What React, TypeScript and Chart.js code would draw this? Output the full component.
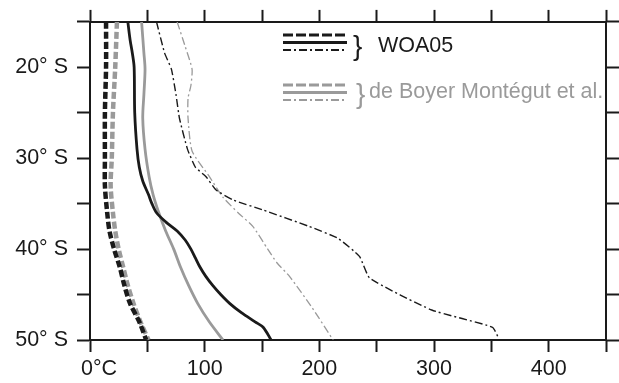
import React, { useEffect, useRef } from "react";
import { Chart, registerables } from "chart.js";

Chart.register(...registerables);

// ---- Data (latitude in degrees south, value in °C-units on x axis) ----
const woaDashLat = [15, 20, 25, 30, 33, 36, 38, 40, 42, 44, 46, 48, 50];
const woaDashVal = [14, 14, 13, 13, 13, 15, 17, 21, 26, 30, 35, 43, 49];

const dbmDashLat = [15, 20, 25, 30, 33, 36, 38, 40, 42, 44, 46, 48, 50];
const dbmDashVal = [23.5, 22, 20, 19, 18, 20, 22, 25, 29, 33, 38, 44, 51];

const woaSolidLat = [15, 17, 18.5, 20, 25, 29, 31, 32.5, 34, 35, 36, 37, 38, 39, 40, 41, 42, 43, 44, 45, 46, 47, 48, 48.6, 50];
const woaSolidVal = [33, 35, 37, 38.5, 39, 41, 43, 46, 51, 54, 58, 66, 76, 83, 88, 92, 96, 101, 107, 114, 122, 132, 144, 151, 158];

const dbmSolidLat = [15, 18.4, 20.2, 23, 25.6, 29, 32, 34, 36, 38, 40, 42, 44, 46, 48, 50];
const dbmSolidVal = [45, 47, 48, 47, 46, 48, 51.5, 55, 60, 66, 73, 79, 86, 94, 104, 116];

const woaDashDotLat = [15, 18.4, 20.2, 23, 25.6, 29, 31, 32, 33.5, 34.6, 35.7, 37.5, 38.8, 40.8, 43.2, 46.7, 48.6, 50];
const woaDashDotVal = [58, 65, 71, 75, 78, 85, 92, 101, 110, 125, 151, 191, 216, 235, 244, 298, 351, 357];

const dbmDashDotLat = [15, 17.7, 20.2, 22, 23.4, 25.6, 29.2, 32, 34.3, 36.1, 37.5, 40, 41.5, 43, 46.5, 50];
const dbmDashDotVal = [76, 83, 89, 88, 85.5, 85.5, 89, 104, 116, 130, 142, 155, 163, 174, 194, 212];

// ---- Tick labels ----
const xLabelValues = [0, 100, 200, 300, 400];
const xLabelTexts = ["   0\u00B0C", "100", "200", "300", "400"];
const yLabelValues = [20, 30, 40, 50];
const yLabelTexts = ["20\u00B0 S", "30\u00B0 S", "40\u00B0 S", "50\u00B0 S"];

const legendTitles = ["WOA05", "de Boyer Mont\u00E9gut et al."];

const BLACK = "#1a1a1a";
const GREY = "#9a9a9a";
const FONT = "'Liberation Sans', Arial, sans-serif";

const toPoints = (lat: number[], val: number[]) =>
  lat.map((l, i) => ({ x: val[i], y: l }));

const legendPlugin = {
  id: "customLegend",
  afterDatasetsDraw(chart: any) {
    const ctx = chart.ctx as CanvasRenderingContext2D;
    ctx.save();
    const x0 = 283;
    const x1 = 347;
    const line = (y: number, color: string, width: number, dash: number[]) => {
      ctx.beginPath();
      ctx.setLineDash(dash);
      ctx.strokeStyle = color;
      ctx.lineWidth = width;
      ctx.moveTo(x0, y);
      ctx.lineTo(x1, y);
      ctx.stroke();
    };
    const groups = [
      { y: 35, color: BLACK, braceX: 353, braceY: 55, textX: 378, textY: 52 },
      { y: 85, color: GREY, braceX: 356, braceY: 103, textX: 369, textY: 98 },
    ];
    groups.forEach((g, i) => {
      line(g.y, g.color, 3, [10, 3]);
      line(g.y + 7.5, g.color, 3, []);
      line(g.y + 15, g.color, 2.2, [8, 3, 2, 3]);
      ctx.setLineDash([]);
      ctx.fillStyle = g.color;
      ctx.textBaseline = "alphabetic";
      ctx.textAlign = "left";
      ctx.font = `28px ${FONT}`;
      ctx.fillText("}", g.braceX, g.braceY);
      ctx.font = `21.5px ${FONT}`;
      ctx.fillText(legendTitles[i], g.textX, g.textY);
    });
    ctx.restore();
  },
};

export default function App() {
  const canvasRef = useRef<HTMLCanvasElement | null>(null);

  useEffect(() => {
    const canvas = canvasRef.current;
    if (!canvas) return;

    const gridCommon = (len: number) => ({
      display: true,
      drawOnChartArea: false,
      drawTicks: true,
      tickLength: len,
      tickWidth: 2,
      tickColor: BLACK,
      color: BLACK,
    });
    const border = { display: true, color: BLACK, width: 2 };

    const chart = new Chart(canvas, {
      type: "line",
      data: {
        datasets: [
          {
            label: "WOA05 dashed",
            data: toPoints(woaDashLat, woaDashVal),
            borderColor: BLACK,
            borderWidth: 4.5,
            borderDash: [7, 3],
            tension: 0.3,
          },
          {
            label: "dBM dashed",
            data: toPoints(dbmDashLat, dbmDashVal),
            borderColor: GREY,
            borderWidth: 4.5,
            borderDash: [7, 3],
            tension: 0.3,
          },
          {
            label: "WOA05 solid",
            data: toPoints(woaSolidLat, woaSolidVal),
            borderColor: BLACK,
            borderWidth: 2.8,
            tension: 0.3,
          },
          {
            label: "dBM solid",
            data: toPoints(dbmSolidLat, dbmSolidVal),
            borderColor: GREY,
            borderWidth: 2.8,
            tension: 0.3,
          },
          {
            label: "WOA05 dash-dot",
            data: toPoints(woaDashDotLat, woaDashDotVal),
            borderColor: BLACK,
            borderWidth: 1.4,
            borderDash: [8, 3, 2, 3],
            tension: 0.15,
          },
          {
            label: "dBM dash-dot",
            data: toPoints(dbmDashDotLat, dbmDashDotVal),
            borderColor: GREY,
            borderWidth: 1.3,
            borderDash: [8, 3, 2, 3],
            tension: 0.2,
          },
        ],
      },
      options: {
        animation: false,
        responsive: false,
        devicePixelRatio: 1,
        layout: { padding: 0 },
        elements: { point: { radius: 0, hoverRadius: 0 }, line: { fill: false } },
        plugins: { legend: { display: false }, tooltip: { enabled: false } },
        scales: {
          x: {
            type: "linear",
            position: "bottom",
            min: 0,
            max: 450,
            ticks: {
              stepSize: 50,
              autoSkip: false,
              maxRotation: 0,
              padding: 4,
              color: BLACK,
              font: { family: FONT, size: 21.5 },
              callback: (v: any) => {
                const i = xLabelValues.indexOf(Number(v));
                return i >= 0 ? xLabelTexts[i] : "";
              },
            },
            grid: gridCommon(12),
            border,
            afterFit: (s: any) => {
              s.height = 43;
            },
          },
          x2: {
            type: "linear",
            position: "top",
            min: 0,
            max: 450,
            ticks: { display: false, stepSize: 50, autoSkip: false },
            grid: gridCommon(12),
            border,
            afterFit: (s: any) => {
              s.height = 17;
            },
          },
          y: {
            type: "linear",
            position: "left",
            reverse: true,
            min: 15,
            max: 50,
            ticks: {
              stepSize: 5,
              autoSkip: false,
              padding: 9,
              color: BLACK,
              font: { family: FONT, size: 21.5 },
              callback: (v: any) => {
                const i = yLabelValues.indexOf(Number(v));
                return i >= 0 ? yLabelTexts[i] : "";
              },
            },
            grid: gridCommon(13),
            border,
            afterFit: (s: any) => {
              s.width = 90;
            },
          },
          y2: {
            type: "linear",
            position: "right",
            reverse: true,
            min: 15,
            max: 50,
            ticks: { display: false, stepSize: 5, autoSkip: false },
            grid: gridCommon(13),
            border,
            afterFit: (s: any) => {
              s.width = 13;
            },
          },
        },
      } as any,
      plugins: [legendPlugin],
    });

    return () => chart.destroy();
  }, []);

  return (
    <div style={{ position: "absolute", left: 0, top: 0, width: 619, height: 383, background: "#fff" }}>
      <canvas ref={canvasRef} width={619} height={383} />
    </div>
  );
}
